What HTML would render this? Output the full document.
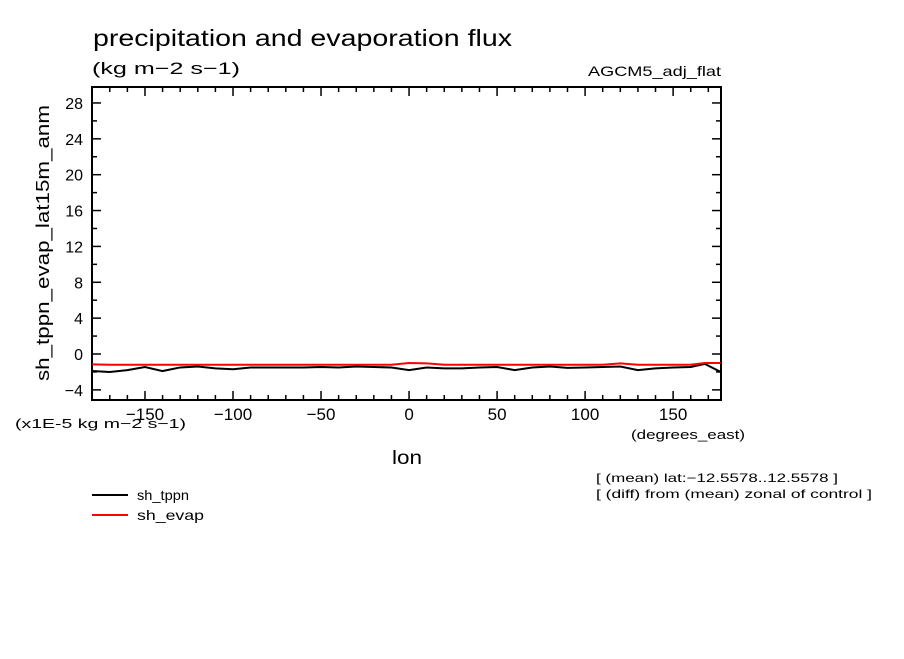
<!DOCTYPE html>
<html><head><meta charset="utf-8"><style>
body{margin:0;background:#fff;width:904px;height:654px;overflow:hidden}
svg{font-family:"Liberation Sans",sans-serif}
</style></head><body>
<svg id="c" width="904" height="654">
<text x="93" y="46" font-size="23" textLength="419" lengthAdjust="spacingAndGlyphs">precipitation and evaporation flux</text>
<text x="92" y="74" font-size="17" textLength="148" lengthAdjust="spacingAndGlyphs">(kg m−2 s−1)</text>
<text x="588" y="76" font-size="14" textLength="133" lengthAdjust="spacingAndGlyphs">AGCM5_adj_flat</text>
<text transform="translate(49,243) rotate(-90)" font-size="18" text-anchor="middle" textLength="276" lengthAdjust="spacingAndGlyphs">sh_tppn_evap_lat15m_anm</text>
<text x="15" y="428" font-size="13" textLength="171" lengthAdjust="spacingAndGlyphs">(x1E-5 kg m−2 s−1)</text>
<text x="631" y="439" font-size="13" textLength="114" lengthAdjust="spacingAndGlyphs">(degrees_east)</text>
<text x="392" y="464" font-size="19" textLength="30" lengthAdjust="spacingAndGlyphs">lon</text>
<text x="596" y="482" font-size="12" textLength="242" lengthAdjust="spacingAndGlyphs">[ (mean) lat:−12.5578..12.5578 ]</text>
<text x="596" y="498" font-size="12" textLength="276" lengthAdjust="spacingAndGlyphs">[ (diff) from (mean) zonal of control ]</text>
<g><line x1="92" y1="495" x2="128" y2="495" stroke="#000" stroke-width="2"/><text x="137" y="500" font-size="14" textLength="52" lengthAdjust="spacingAndGlyphs">sh_tppn</text></g>
<g><line x1="92" y1="515" x2="128" y2="515" stroke="#f00" stroke-width="2"/><text x="137" y="520" font-size="14" textLength="67" lengthAdjust="spacingAndGlyphs">sh_evap</text></g>
<g id="axes"></g>
<g id="series"></g>
</svg>
<script>
const lons=[-180,-170,-160,-150,-140,-130,-120,-110,-100,-90,-80,-70,-60,-50,-40,-30,-20,-10,0,10,20,30,40,50,60,70,80,90,100,110,120,130,140,150,160,168,177];
const tppn=[-1.9,-2.0,-1.8,-1.45,-1.9,-1.5,-1.4,-1.6,-1.7,-1.5,-1.5,-1.5,-1.5,-1.45,-1.5,-1.4,-1.45,-1.5,-1.8,-1.5,-1.6,-1.6,-1.5,-1.45,-1.8,-1.5,-1.4,-1.55,-1.5,-1.45,-1.4,-1.8,-1.6,-1.5,-1.45,-1.1,-2.0];
const evap=[-1.15,-1.2,-1.2,-1.2,-1.2,-1.2,-1.2,-1.2,-1.2,-1.2,-1.2,-1.2,-1.2,-1.2,-1.2,-1.2,-1.2,-1.2,-1.0,-1.05,-1.2,-1.2,-1.2,-1.2,-1.2,-1.2,-1.2,-1.2,-1.2,-1.2,-1.05,-1.2,-1.2,-1.2,-1.2,-1.0,-1.0];
const yTicks=[-4,0,4,8,12,16,20,24,28];
const xTicks=[-150,-100,-50,0,50,100,150];
const L=92,R=721,T=87,B=400,x0=-180.1,x1=177.2,y0=-5.13,y1=29.78;
const X=v=>L+(v-x0)/(x1-x0)*(R-L), Y=v=>B-(v-y0)/(y1-y0)*(B-T);
const NS="http://www.w3.org/2000/svg";
function mk(t,a,p){const e=document.createElementNS(NS,t);for(const k in a)e.setAttribute(k,a[k]);p.appendChild(e);return e;}
const ax=document.getElementById('axes');
const fr=mk('rect',{x:L,y:T,width:R-L,height:B-T,fill:'none',stroke:'#000','stroke-width':2},ax);


for(let v=-170;v<=170;v+=10){const big=v%50===0;
 mk('line',{x1:X(v),x2:X(v),y1:B,y2:B-(big?9:5),stroke:'#000','stroke-width':1.5},ax);
 mk('line',{x1:X(v),x2:X(v),y1:T,y2:T+(big?9:5),stroke:'#000','stroke-width':1.5},ax);}
for(let v=-4;v<=28;v+=2){const big=v%4===0;
 mk('line',{x1:L,x2:L+(big?9:5),y1:Y(v),y2:Y(v),stroke:'#000','stroke-width':1.5},ax);
 mk('line',{x1:R,x2:R-(big?9:5),y1:Y(v),y2:Y(v),stroke:'#000','stroke-width':1.5},ax);}
xTicks.forEach(v=>{const t=mk('text',{x:X(v),y:420,'font-size':17,'text-anchor':'middle'},ax);t.textContent=v<0?'−'+(-v):v;
 
 });
yTicks.forEach(v=>{const t=mk('text',{x:83,y:Y(v)+6,'font-size':16,'text-anchor':'end'},ax);t.textContent=v<0?'−'+(-v):v;
 
 });
const s=document.getElementById('series');
const p1=mk('polyline',{points:lons.map((l,i)=>X(l)+','+Y(tppn[i])).join(' '),fill:'none',stroke:'#000','stroke-width':2},s);


const p2=mk('polyline',{points:lons.map((l,i)=>X(l)+','+Y(evap[i])).join(' '),fill:'none',stroke:'#f00','stroke-width':2},s);


</script>
</body></html>
